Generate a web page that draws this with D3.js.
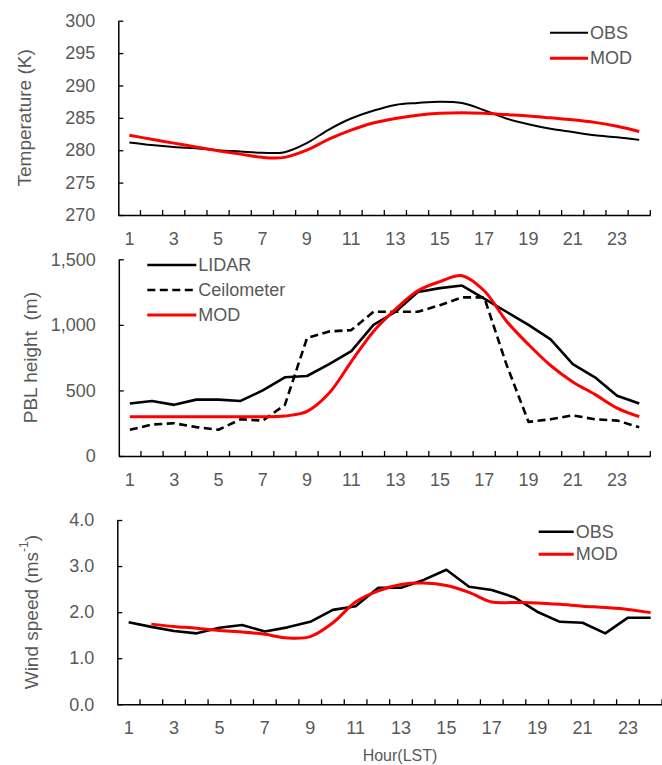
<!DOCTYPE html>
<html>
<head>
<meta charset="utf-8">
<script src="https://cdn.jsdelivr.net/npm/d3@7/dist/d3.min.js"></script>
<style>
    body { margin: 0; background: #fff; }
    svg { display: block; font-family: "Liberation Sans", Arial, sans-serif; }
</style>
</head>
<body>
<div id="chart"></div>
<script>
// categories
var hours = [1,2,3,4,5,6,7,8,9,10,11,12,13,14,15,16,17,18,19,20,21,22,23,24];
var hourLabels = [1,3,5,7,9,11,13,15,17,19,21,23];

// temperature (K)
var tempTicks = [270,275,280,285,290,295,300];
var tempObs = [281.2,280.8,280.5,280.3,280.0,279.8,279.6,279.7,281.1,283.2,284.9,286.1,
               287.0,287.3,287.5,287.3,286.2,284.9,284.0,283.3,282.8,282.3,282.0,281.6];
var tempMod = [282.3,281.7,281.1,280.5,279.9,279.4,278.9,278.9,280.0,281.7,283.1,284.2,
               284.9,285.4,285.7,285.8,285.7,285.5,285.3,285.0,284.7,284.3,283.7,282.9];

// PBL height (m)
var pblTicks = [0,500,1000,1500];
var pblLidar = [400,420,390,430,430,420,500,600,610,700,800,1000,
                1100,1250,1280,1300,1200,1100,1000,890,700,600,460,400];
var pblCeil  = [200,240,250,220,200,280,270,390,900,950,960,1100,
                1100,1100,1150,1210,1210,700,260,280,310,280,270,220];
var pblMod   = [300,300,300,300,300,300,300,305,340,480,720,950,
                1120,1260,1330,1375,1260,1030,850,690,565,470,365,300];

// wind speed (m/s)
var windTicks = [0,1,2,3,4];
var windObs = [1.78,1.68,1.59,1.54,1.66,1.72,1.58,1.67,1.79,2.05,2.13,2.53,
               2.53,2.70,2.92,2.55,2.48,2.32,2.01,1.79,1.77,1.54,1.88,1.88];
var windMod = [null,1.74,1.69,1.65,1.60,1.57,1.52,1.44,1.47,1.77,2.22,2.46,
               2.60,2.63,2.58,2.43,2.22,2.21,2.20,2.17,2.13,2.10,2.06,1.99];

var grey = "#595959";
var smooth = d3.curveCatmullRom.alpha(0.5);

var svg = d3.select("#chart")
    .append("svg")
        .attr("width", 662)
        .attr("height", 765);

function panel(cfg){
    var g = svg.append("g");

    var x = d3.scaleBand()
        .domain(hours)
        .range([cfg.left, cfg.right]);
    var y = d3.scaleLinear()
        .domain([cfg.ticks[0], cfg.ticks[cfg.ticks.length - 1]])
        .range([cfg.bottom, cfg.top]);
    var cx = function(h){ return x(h) + x.bandwidth() / 2; };

    // x axis: labels at category centres
    var xa = g.append("g")
        .attr("transform", "translate(0," + cfg.bottom + ")")
        .call(d3.axisBottom(x).tickValues(hourLabels).tickSize(0).tickSizeOuter(0).tickPadding(17));
    xa.select(".domain").attr("stroke", "#000").attr("stroke-width", 1.5);
    xa.selectAll("text").attr("fill", grey).attr("font-size", 18).attr("font-family", null);

    // tick marks on the category boundaries, pointing inside
    var bounds = hours.slice(1).map(function(h){ return x(h); }).concat([x.range()[1]]);
    g.selectAll(".bound")
        .data(bounds)
        .enter()
        .append("line")
            .attr("x1", function(d){ return d; })
            .attr("x2", function(d){ return d; })
            .attr("y1", cfg.bottom)
            .attr("y2", cfg.bottom - 5)
            .attr("stroke", "#000")
            .attr("stroke-width", 1.3);

    // y axis
    var ya = g.append("g")
        .attr("transform", "translate(" + cfg.left + ",0)")
        .call(d3.axisLeft(y).tickValues(cfg.ticks).tickFormat(cfg.format)
            .tickSizeInner(-5).tickSizeOuter(0).tickPadding(23));
    ya.select(".domain").attr("stroke", "#000").attr("stroke-width", 1.5);
    ya.selectAll(".tick line").attr("stroke-width", 1.3);
    ya.selectAll("text").attr("fill", grey).attr("font-size", 18).attr("font-family", null);

    // axis title
    var t = g.append("text")
        .attr("transform", "translate(" + cfg.titleX + "," + ((cfg.top + cfg.bottom) / 2) + ") rotate(-90)")
        .attr("text-anchor", "middle")
        .attr("dominant-baseline", "central")
        .attr("fill", grey)
        .attr("font-size", 19);
    cfg.title(t);

    // series
    cfg.series.forEach(function(s){
        var line = d3.line()
            .defined(function(d){ return d != null; })
            .x(function(d, i){ return cx(hours[i]); })
            .y(function(d){ return y(d); })
            .curve(s.curve || d3.curveLinear);
        g.append("path")
            .datum(s.data)
            .attr("fill", "none")
            .attr("stroke", s.color)
            .attr("stroke-width", s.width)
            .attr("stroke-dasharray", s.dash || null)
            .attr("stroke-linejoin", "round")
            .attr("d", line);
    });

    // legend
    var lg = g.append("g")
        .selectAll("g")
        .data(cfg.series)
        .enter()
        .append("g")
            .attr("transform", function(d, i){
                return "translate(" + cfg.legend.x + "," + (cfg.legend.y + i * cfg.legend.step) + ")";
            });
    lg.append("line")
        .attr("x1", 0)
        .attr("x2", cfg.legend.len)
        .attr("stroke", function(d){ return d.color; })
        .attr("stroke-width", function(d){ return d.legendWidth || d.width; })
        .attr("stroke-dasharray", function(d){ return d.dash || null; });
    lg.append("text")
        .attr("x", cfg.legend.len + 2)
        .attr("dominant-baseline", "central")
        .attr("fill", grey)
        .attr("font-size", 18)
        .text(function(d){ return d.name; });
}

// Temperature
panel({
    left: 118.3, right: 650.3, top: 20.7, bottom: 215,
    ticks: tempTicks, format: d3.format("d"), titleX: 24,
    title: function(t){ t.text("Temperature (K)"); },
    series: [
        {name: "OBS", data: tempObs, color: "#000", width: 2, curve: smooth},
        {name: "MOD", data: tempMod, color: "#f00", width: 3, curve: smooth}
    ],
    legend: {x: 550, y: 32.7, step: 25.6, len: 38}
});

// PBL height
panel({
    left: 118.8, right: 650.3, top: 259.3, bottom: 456,
    ticks: pblTicks, format: d3.format(","), titleX: 30,
    title: function(t){ t.text("PBL height  (m)").attr("xml:space", "preserve").style("white-space", "pre"); },
    series: [
        {name: "LIDAR", data: pblLidar, color: "#000", width: 2.6},
        {name: "Ceilometer", data: pblCeil, color: "#000", width: 2.6, dash: "8,4.5"},
        {name: "MOD", data: pblMod, color: "#f00", width: 3, curve: smooth}
    ],
    legend: {x: 147.3, y: 265, step: 25, len: 49}
});

// Wind speed
panel({
    left: 117.3, right: 662, top: 520, bottom: 704.3,
    ticks: windTicks, format: d3.format(".1f"), titleX: 31,
    title: function(t){
        t.append("tspan").text("Wind speed (ms");
        t.append("tspan").attr("font-size", 12).attr("dy", -7).text("-1");
        t.append("tspan").attr("dy", 7).text(")");
    },
    series: [
        {name: "OBS", data: windObs, color: "#000", width: 2.6},
        {name: "MOD", data: windMod, color: "#f00", width: 3, curve: smooth}
    ],
    legend: {x: 538.7, y: 531.7, step: 22.6, len: 35}
});

svg.append("text")
    .attr("x", 400)
    .attr("y", 755)
    .attr("text-anchor", "middle")
    .attr("dominant-baseline", "central")
    .attr("fill", grey)
    .attr("font-size", 16)
    .text("Hour(LST)");
</script>
</body>
</html>
